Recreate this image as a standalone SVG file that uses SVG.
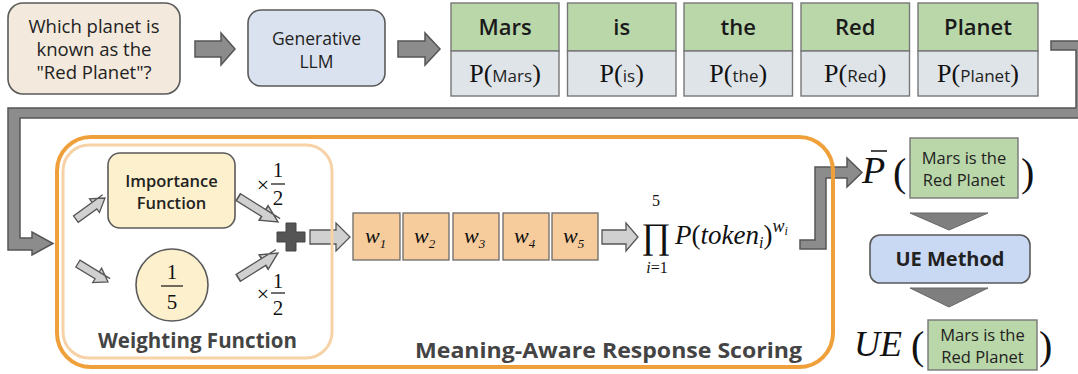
<svg xmlns="http://www.w3.org/2000/svg" width="1078" height="374" viewBox="0 0 1078 374">
<style>
.sans{font-family:"Open Sans","Liberation Sans",sans-serif;fill:#222}
.serif{font-family:"Liberation Serif","DejaVu Serif",serif;fill:#111}
.box{stroke:#5a5a5a;stroke-width:1.6}
.tok-top{fill:#bad7a9;stroke:#777;stroke-width:1.4}
.tok-bot{fill:#dfe4e9;stroke:#777;stroke-width:1.4}
.tokw{font-family:"Open Sans","Liberation Sans",sans-serif;fill:#1a1a1a;font-size:22px;font-weight:600}
.dark-arrow{fill:#8c8c8c;stroke:#555;stroke-width:1.5;stroke-linejoin:miter}
.light-arrow{fill:#d0d0d0;stroke:#555;stroke-width:1.3}
.wbox{fill:#f6cc9d;stroke:#6a6a6a;stroke-width:1.3}
.tri{fill:#7f7f7f;stroke:#666;stroke-width:1}
.title{font-family:"Open Sans","Liberation Sans",sans-serif;font-weight:700;fill:#444}
</style>
<defs>
<polygon id="sa" points="0,-4 -13,-4 -13,-8.5 0,0 -13,8.5 -13,4 -36,4 -36,-4" class="light-arrow"/>
</defs>

<g id="connectors">
<polygon class="dark-arrow" points="195,41 221,41 221,33 235,49 221,65 221,57 195,57"/>
<polygon class="dark-arrow" points="398,41 425,41 425,33 440,49 425,65 425,57 398,57"/>
<polygon class="dark-arrow" points="1051,41 1090,41 1090,118 20,118 20,238 32,238 32,232 53,243.5 32,255 32,250 8,250 8,108 1076,108 1076,50 1051,50"/>
<polygon class="dark-arrow" points="800,240 815,240 815,167 847,167 847,158 862,172.5 847,187 847,178 826,178 826,249 800,249"/>
<polygon class="light-arrow" points="310,230 336,230 336,223 350,237 336,251 336,244 310,244"/>
<polygon class="light-arrow" points="602,230 626,230 626,223 638,237 626,251 626,244 602,244"/>
<polygon class="tri" points="910,213 988,213 949,230"/>
<polygon class="tri" points="910,288 988,288 949,307"/>
</g>

<g id="question">
<rect class="box" x="8" y="3" width="172" height="91" rx="15" fill="#f3e9dd"/>
<text class="sans" font-size="18.5" text-anchor="middle"><tspan x="94" y="33">Which planet is</tspan><tspan x="94" y="56">known as the</tspan><tspan x="94" y="79">"Red Planet"?</tspan></text>
</g>

<g id="llm">
<rect class="box" x="248" y="10" width="137" height="76" rx="13" fill="#dae2f0"/>
<text class="sans" font-size="17.5" text-anchor="middle"><tspan x="316.5" y="45">Generative</tspan><tspan x="316.5" y="68">LLM</tspan></text>
</g>

<g id="tokens">
<g id="tok-mars">
<rect class="tok-top" x="451" y="3" width="108" height="48"/>
<rect class="tok-bot" x="451" y="51" width="108" height="45"/>
<text class="tokw" text-anchor="middle" x="505" y="35">Mars</text>
<text text-anchor="middle" x="505" y="82"><tspan class="serif" font-size="26">P(</tspan><tspan class="sans" font-size="17">Mars</tspan><tspan class="serif" font-size="26">)</tspan></text>
</g>
<g id="tok-is">
<rect class="tok-top" x="567.5" y="3" width="108.5" height="48"/>
<rect class="tok-bot" x="567.5" y="51" width="108.5" height="45"/>
<text class="tokw" text-anchor="middle" x="621.7" y="35">is</text>
<text text-anchor="middle" x="621.7" y="82"><tspan class="serif" font-size="26">P(</tspan><tspan class="sans" font-size="17">is</tspan><tspan class="serif" font-size="26">)</tspan></text>
</g>
<g id="tok-the">
<rect class="tok-top" x="684" y="3" width="108.5" height="48"/>
<rect class="tok-bot" x="684" y="51" width="108.5" height="45"/>
<text class="tokw" text-anchor="middle" x="738.2" y="35">the</text>
<text text-anchor="middle" x="738.2" y="82"><tspan class="serif" font-size="26">P(</tspan><tspan class="sans" font-size="17">the</tspan><tspan class="serif" font-size="26">)</tspan></text>
</g>
<g id="tok-red">
<rect class="tok-top" x="801" y="3" width="108.5" height="48"/>
<rect class="tok-bot" x="801" y="51" width="108.5" height="45"/>
<text class="tokw" text-anchor="middle" x="855.2" y="35">Red</text>
<text text-anchor="middle" x="855.2" y="82"><tspan class="serif" font-size="26">P(</tspan><tspan class="sans" font-size="17">Red</tspan><tspan class="serif" font-size="26">)</tspan></text>
</g>
<g id="tok-planet">
<rect class="tok-top" x="918" y="3" width="120" height="48"/>
<rect class="tok-bot" x="918" y="51" width="120" height="45"/>
<text class="tokw" text-anchor="middle" x="978" y="35">Planet</text>
<text text-anchor="middle" x="978" y="82"><tspan class="serif" font-size="26">P(</tspan><tspan class="sans" font-size="17">Planet</tspan><tspan class="serif" font-size="26">)</tspan></text>
</g>
</g>

<g id="mars-scoring">
<rect x="57" y="137" width="776" height="230" rx="34" fill="none" stroke="#f0a03a" stroke-width="4"/>
<text class="title" font-size="21.5" x="415" y="358" textLength="387" lengthAdjust="spacingAndGlyphs">Meaning-Aware Response Scoring</text>
</g>

<g id="weighting-function">
<rect x="63" y="145" width="269" height="213" rx="26" fill="none" stroke="#f6d2a6" stroke-width="3"/>
<text class="title" font-size="21" x="98" y="348" textLength="199" lengthAdjust="spacingAndGlyphs">Weighting Function</text>
</g>

<g id="importance">
<rect class="box" x="108" y="153" width="127" height="75" rx="12" fill="#fdf0cd"/>
<text class="sans" font-size="16.5" font-weight="600" text-anchor="middle"><tspan x="171.5" y="187">Importance</tspan><tspan x="171.5" y="209">Function</tspan></text>
</g>

<g id="uniform">
<circle class="box" cx="172" cy="285" r="36" fill="#fdf0cd"/>
<text class="serif" font-size="21" text-anchor="middle" x="172" y="279">1</text>
<line x1="161" y1="286" x2="183" y2="286" stroke="#111" stroke-width="1.2"/>
<text class="serif" font-size="21" text-anchor="middle" x="172" y="309">5</text>
</g>

<g id="small-arrows">
<use href="#sa" transform="translate(105,198) rotate(-36)"/>
<use href="#sa" transform="translate(108,282) rotate(31.5) scale(0.98,1)"/>
<use href="#sa" transform="translate(278,222) rotate(32) scale(1.3,1)"/>
<use href="#sa" transform="translate(278,253) rotate(-32) scale(1.3,1)"/>
</g>

<g id="half-labels">
<text class="serif" font-size="22" x="263" y="192" text-anchor="middle">×</text>
<text class="serif" font-size="21" x="278" y="177" text-anchor="middle">1</text>
<line x1="271" y1="184" x2="285" y2="184" stroke="#111" stroke-width="1.2"/>
<text class="serif" font-size="21" x="278" y="205" text-anchor="middle">2</text>
<text class="serif" font-size="22" x="263" y="301" text-anchor="middle">×</text>
<text class="serif" font-size="21" x="278" y="288" text-anchor="middle">1</text>
<line x1="271" y1="293" x2="285" y2="293" stroke="#111" stroke-width="1.2"/>
<text class="serif" font-size="21" x="278" y="315" text-anchor="middle">2</text>
</g>

<g id="plus">
<path d="M286,223 h10 v9 h9 v10 h-9 v9 h-10 v-9 h-9 v-10 h9 z" fill="#555" stroke="#444" stroke-width="1"/>
</g>

<g id="weights">
<rect class="wbox" x="353" y="213" width="47" height="47"/>
<rect class="wbox" x="403" y="213" width="46" height="47"/>
<rect class="wbox" x="453" y="213" width="46" height="47"/>
<rect class="wbox" x="503" y="213" width="46" height="47"/>
<rect class="wbox" x="552" y="213" width="46" height="47"/>
<text class="serif" font-style="italic" font-size="22"><tspan x="365" y="243">w</tspan><tspan font-size="13" dy="5">1</tspan></text>
<text class="serif" font-style="italic" font-size="22"><tspan x="414" y="243">w</tspan><tspan font-size="13" dy="5">2</tspan></text>
<text class="serif" font-style="italic" font-size="22"><tspan x="464" y="243">w</tspan><tspan font-size="13" dy="5">3</tspan></text>
<text class="serif" font-style="italic" font-size="22"><tspan x="514" y="243">w</tspan><tspan font-size="13" dy="5">4</tspan></text>
<text class="serif" font-style="italic" font-size="22"><tspan x="563" y="243">w</tspan><tspan font-size="13" dy="5">5</tspan></text>
</g>

<g id="product">
<text class="serif" font-size="16" x="656" y="206" text-anchor="middle">5</text>
<text class="serif" font-size="36" x="656" y="248" text-anchor="middle">∏</text>
<text class="serif" font-size="16" x="657" y="273" text-anchor="middle"><tspan font-style="italic">i</tspan>=1</text>
<text class="serif" font-size="27" x="675" y="244"><tspan font-style="italic">P</tspan>(<tspan font-style="italic">token</tspan><tspan font-style="italic" font-size="16" dy="4">i</tspan><tspan dy="-4">)</tspan><tspan font-style="italic" font-size="18" dy="-12">w</tspan><tspan font-style="italic" font-size="12" dy="3">i</tspan></text>
</g>

<g id="pbar">
<text class="serif" font-style="italic" font-size="38" x="862" y="183">P</text>
<line x1="871" y1="151" x2="887" y2="151" stroke="#111" stroke-width="1.5"/>
<text class="serif" font-size="40" x="893" y="186">(</text>
<rect x="910" y="138" width="108" height="60" fill="#bad7a9" stroke="#777" stroke-width="1.4"/>
<text class="sans" font-size="16.5" text-anchor="middle"><tspan x="964" y="164">Mars is the</tspan><tspan x="964" y="186">Red Planet</tspan></text>
<text class="serif" font-size="40" x="1021" y="186">)</text>
</g>

<g id="ue-method">
<rect class="box" x="870" y="235" width="160" height="48" rx="10" fill="#c9d9f3"/>
<text class="sans" font-size="20" font-weight="700" text-anchor="middle" x="950" y="266">UE Method</text>
</g>

<g id="ue-result">
<text class="serif" font-style="italic" font-size="36" x="854" y="356">UE</text>
<text class="serif" font-size="40" x="911" y="359">(</text>
<rect x="928" y="320" width="109" height="50" fill="#bad7a9" stroke="#777" stroke-width="1.4"/>
<text class="sans" font-size="16.5" text-anchor="middle"><tspan x="982.5" y="341">Mars is the</tspan><tspan x="982.5" y="363">Red Planet</tspan></text>
<text class="serif" font-size="40" x="1039" y="359">)</text>
</g>
</svg>
